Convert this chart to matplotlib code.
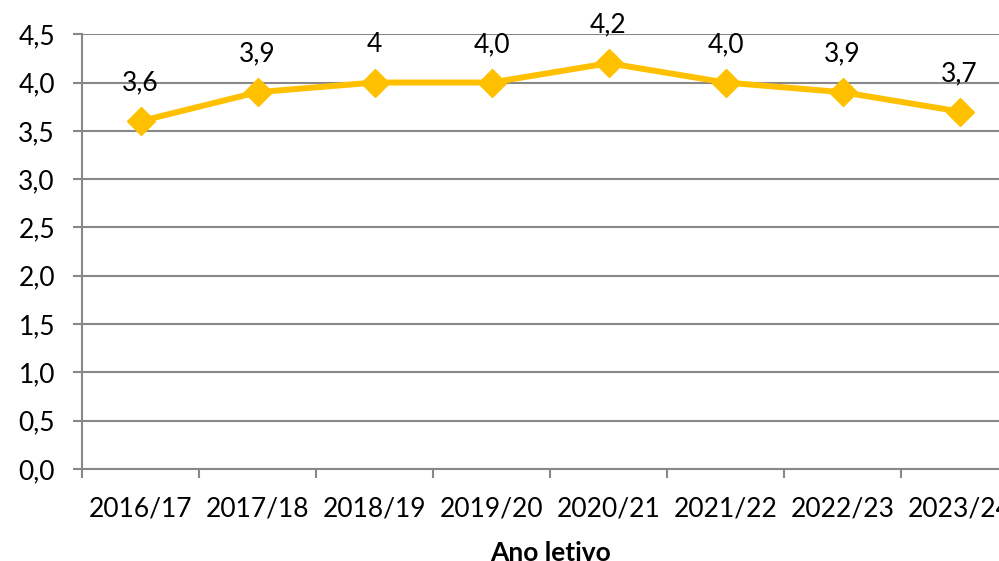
import matplotlib.pyplot as plt
from matplotlib.ticker import FixedLocator, FuncFormatter

# data
anos = ["2016/17", "2017/18", "2018/19", "2019/20", "2020/21", "2021/22", "2022/23", "2023/24"]
valores = [3.6, 3.9, 4.0, 4.0, 4.2, 4.0, 3.9, 3.7]
rotulos = ["3,6", "3,9", "4", "4,0", "4,2", "4,0", "3,9", "3,7"]

plt.rcParams['font.family'] = ['Lato', 'DejaVu Sans']
cinza = "#888888"
amarelo = "#FFC000"

fig = plt.figure(figsize=(9.99, 5.61), dpi=100)
# axes runs past the right edge, like the original crop
ax = fig.add_axes([0.0821, 0.164, 0.937, 0.775])

x = list(range(len(anos)))
ax.plot(x, valores, color=amarelo, lw=4.3, marker='D', ms=14, mec=amarelo, mfc=amarelo, zorder=3)
for xi, v, r in zip(x, valores, rotulos):
    ax.annotate(r, (xi, v), xytext=(0, 27.5), textcoords='offset points',
                ha='center', va='center', fontsize=19, annotation_clip=False)

ax.set_xlim(-0.5, len(anos) - 0.5)
ax.set_ylim(0, 4.5)
ax.set_yticks([i * 0.5 for i in range(10)])
ax.yaxis.set_major_formatter(FuncFormatter(lambda v, p: f"{v:.1f}".replace(".", ",")))
ax.set_xticks(x)
ax.set_xticklabels(anos)
ax.xaxis.set_minor_locator(FixedLocator([i - 0.5 for i in range(len(anos) + 1)]))

ax.grid(axis='y', color=cinza, lw=1.5)
ax.set_axisbelow(True)
for s in ['top', 'right']:
    ax.spines[s].set_visible(False)
for s in ['left', 'bottom']:
    ax.spines[s].set_color(cinza)
    ax.spines[s].set_linewidth(1.5)

ax.tick_params(axis='y', length=6.5, width=1.5, color=cinza, labelsize=19, pad=13)
ax.tick_params(axis='x', which='major', length=0, labelsize=19, pad=20)
ax.tick_params(axis='x', which='minor', length=6.5, width=1.5, color=cinza)

ax.set_xlabel("Ano letivo", fontsize=19, fontweight='bold', labelpad=14)

fig.savefig("out.png", dpi=100)
